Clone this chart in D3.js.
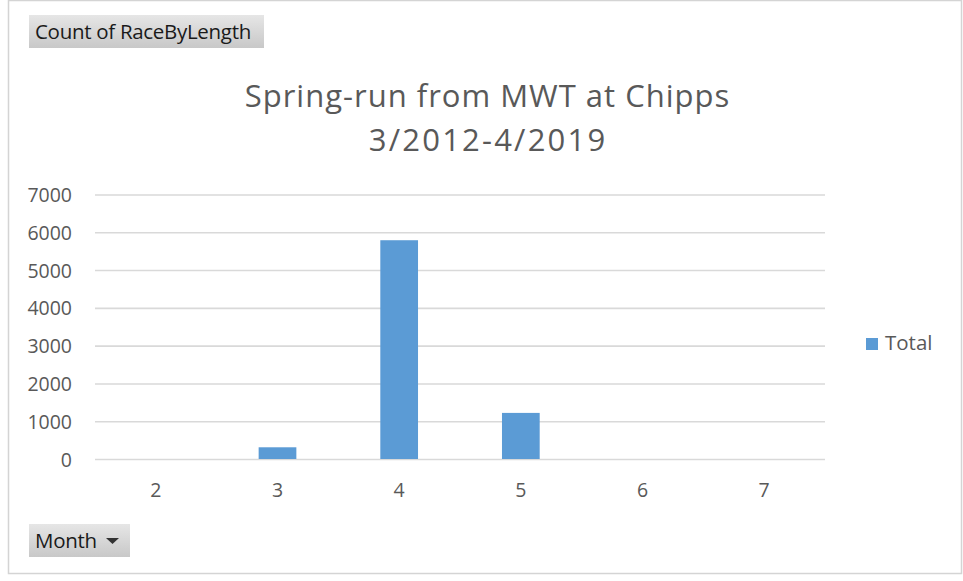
<!DOCTYPE html>
<html><head><meta charset="utf-8">
<script src="https://cdn.jsdelivr.net/npm/d3@7"></script>
<style>body{margin:0;background:#fff;} text{font-family:"Open Sans","Noto Sans",sans-serif;}</style>
</head><body>
<svg id="c" width="963" height="581"></svg>
<script>
const months = ["2","3","4","5","6","7"];
const totals = [0, 310, 5790, 1220, 0, 0];
const yTicks = [0,1000,2000,3000,4000,5000,6000,7000];
const titleLines = ["Spring-run from MWT at Chipps","3/2012-4/2019"];
const seriesName = "Total";
const valueFieldLabel = "Count of RaceByLength";
const axisFieldLabel = "Month";

const svg = d3.select("#c");
const W=963,H=581;
const m={left:95,right:138,top:194.5,bottom:122};
const x=d3.scaleBand().domain(months).range([m.left,W-m.right]).paddingInner(0.69).paddingOuter(0.345);
const y=d3.scaleLinear().domain([0,7000]).range([H-m.bottom,m.top]);

// chart area border
svg.append("rect").attr("x",8.5).attr("y",0.5).attr("width",953).attr("height",573).attr("fill","#fff").attr("stroke","#d4d4d4").attr("stroke-width",1.5);

// gradient for buttons
const defs=svg.append("defs");
const g=defs.append("linearGradient").attr("id","btn").attr("x1",0).attr("y1",0).attr("x2",0).attr("y2",1);
g.append("stop").attr("offset","0%").attr("stop-color","#e6e6e6");
g.append("stop").attr("offset","100%").attr("stop-color","#c8c8c8");

// gridlines
svg.append("g").attr("transform",`translate(${m.left},0)`)
 .call(d3.axisLeft(y).tickValues(yTicks).tickSize(-(W-m.right-m.left)).tickFormat(""))
 .call(s=>s.select(".domain").remove())
 .call(s=>s.selectAll("line").attr("stroke","#d9d9d9").attr("stroke-width",1.6));

// y labels
svg.append("g").attr("transform",`translate(72,0)`)
 .call(d3.axisLeft(y).tickValues(yTicks).tickSize(0).tickPadding(0).tickFormat(d3.format("d")))
 .call(s=>s.select(".domain").remove())
 .call(s=>s.selectAll("text").attr("fill","#595959").attr("font-size",19.5).attr("dy","0.36em").attr("font-family","'Open Sans',sans-serif"));

// bars
svg.append("g").selectAll("rect").data(months.map((mo,i)=>({mo,v:totals[i]}))).join("rect")
 .attr("x",d=>x(d.mo)).attr("width",x.bandwidth())
 .attr("y",d=>y(d.v)).attr("height",d=>y(0)-y(d.v))
 .attr("fill","#5b9bd5");

// x labels
svg.append("g").attr("transform",`translate(0,497)`)
 .call(d3.axisBottom(x).tickSize(0).tickPadding(0))
 .call(s=>s.select(".domain").remove())
 .call(s=>s.selectAll("text").attr("fill","#595959").attr("font-size",19.5).attr("dy",0).attr("font-family","'Open Sans',sans-serif"));

// title
const ls=[1.0,2.2];
svg.append("g").selectAll("text").data(titleLines).join("text")
 .attr("x",(d,i)=>487+ls[i]/2).attr("y",(d,i)=>107+i*44).attr("text-anchor","middle")
 .attr("fill","#595959").attr("font-size",31).attr("letter-spacing",(d,i)=>ls[i]).text(d=>d);

// legend
svg.append("rect").attr("x",866).attr("y",338).attr("width",12).attr("height",12).attr("fill","#5b9bd5");
svg.append("text").attr("x",885).attr("y",350).attr("fill","#595959").attr("font-size",20.5).text(seriesName);

// field buttons
function btn(x0,y0,w,h,label,arrow){
 svg.append("rect").attr("x",x0).attr("y",y0).attr("width",w).attr("height",h).attr("fill","url(#btn)");
 svg.append("text").attr("x",x0+6).attr("y",y0+h/2+7).attr("fill","#1a1a1a").attr("font-size",20.5).attr("letter-spacing",-0.3).text(label);
 if(arrow){
   const ax=x0+w-17.5, ay=y0+h/2;
   svg.append("path").attr("d",`M${ax-6.5},${ay-2.5} L${ax+6.5},${ay-2.5} L${ax},${ay+3.5} Z`).attr("fill","#333");
 }
}
btn(29,15,235,33,valueFieldLabel,false);
btn(29,524,101,33,axisFieldLabel,true);
</script>
</body></html>
